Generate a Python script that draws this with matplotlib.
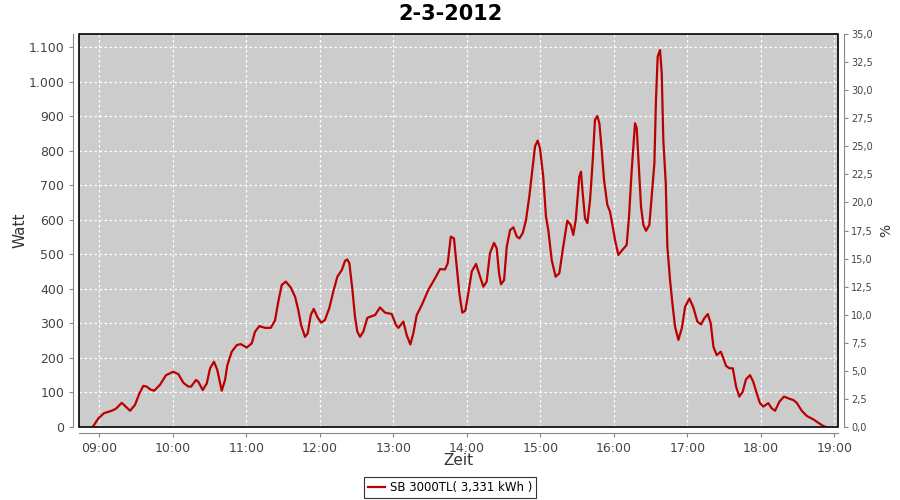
import matplotlib.pyplot as plt
from matplotlib.patches import Rectangle
from matplotlib.ticker import FuncFormatter, MultipleLocator

# time in minutes since midnight, power in watt
minutes = [534.6, 539.2, 543.8, 550.1, 553.6, 558.3, 565.1, 569.1, 572.7, 575.9,
           578.7, 581.4, 584.7, 589.5, 594.4, 600.4, 604.5, 608.6, 612.7, 614.9,
           618.9, 620.8, 624.4, 627.7, 630.4, 633.6, 636.3, 639.9, 642.6, 644.5,
           648.1, 652.2, 655.4, 660.3, 664.4, 667.1, 670.6, 675.3, 679.9, 683.4,
           686.1, 688.9, 692.2, 696.2, 699.8, 702.4, 704.7, 707.9, 710.1, 712.6,
           715.0, 718.0, 721.0, 724.2, 727.7, 731.0, 734.3, 737.9, 740.6, 742.4,
           744.1, 746.5, 748.7, 750.6, 752.8, 755.5, 758.8, 763.2, 765.1, 769.1,
           773.2, 778.7, 782.2, 784.1, 788.2, 790.9, 793.9, 796.3, 799.1, 803.2,
           808.6, 814.0, 818.1, 822.2, 824.4, 826.9, 829.5, 831.8, 833.9, 836.3,
           838.8, 841.2, 844.0, 847.5, 850.8, 853.5, 856.2, 858.9, 862.2, 864.4,
           866.3, 867.9, 870.4, 872.6, 875.3, 878.0, 880.8, 882.9, 885.6, 888.3,
           891.0, 893.8, 895.7, 897.9, 899.7, 902.4, 904.6, 906.5, 909.3, 912.5,
           915.5, 918.7, 922.0, 924.8, 926.9, 928.9, 931.8, 933.2, 934.6, 936.5,
           938.4, 940.6, 942.8, 944.6, 946.5, 948.2, 950.1, 952.0, 954.7, 956.9,
           959.1, 961.0, 963.7, 966.4, 970.5, 972.4, 974.6, 977.3, 978.7, 980.6,
           982.2, 984.1, 986.3, 989.0, 990.9, 993.1, 994.4, 995.8, 997.7, 999.1,
           1000.4, 1002.4, 1003.7, 1005.9, 1007.8, 1010.0, 1012.7, 1015.5, 1018.2, 1021.7,
           1024.9, 1028.2, 1031.2, 1033.9, 1036.7, 1039.1, 1041.3, 1044.0, 1047.3, 1049.4,
           1051.6, 1054.3, 1057.1, 1059.8, 1062.4, 1065.2, 1067.9, 1071.2, 1073.8, 1076.6,
           1079.3, 1082.0, 1086.1, 1088.9, 1091.6, 1095.1, 1098.9, 1102.4, 1106.5, 1109.3,
           1113.4, 1117.5, 1122.9, 1127.0, 1131.0, 1133.2]
watt = [0, 25, 40, 47, 53, 70, 47, 64, 97, 119,
        117, 109, 105, 122, 150, 160, 153, 128, 117, 117,
        136, 131, 107, 126, 170, 189, 165, 105, 136, 179,
        218, 237, 240, 230, 242, 276, 292, 287, 287, 308,
        363, 411, 421, 404, 377, 339, 295, 261, 271, 324,
        342, 318, 302, 310, 344, 392, 435, 454, 481, 485,
        474, 401, 319, 276, 261, 276, 316, 322, 324, 346,
        331, 327, 295, 287, 305, 266, 239, 271, 324, 353,
        397, 430, 457, 456, 474, 551, 546, 464, 387, 331,
        337, 387, 450, 472, 435, 406, 421, 503, 533, 517,
        445, 413, 425, 522, 570, 578, 551, 546, 561, 599,
        667, 753, 813, 829, 807, 724, 609, 570, 483, 435,
        445, 522, 597, 585, 556, 599, 724, 739, 676, 604,
        590, 657, 773, 889, 900, 879, 802, 715, 643, 623,
        580, 541, 498, 510, 527, 609, 744, 879, 865, 744,
        638, 585, 568, 585, 667, 763, 946, 1072, 1091, 1024,
        831, 705, 522, 425, 358, 290, 252, 286, 348, 372,
        346, 305, 297, 315, 327, 300, 232, 208, 218, 199,
        177, 170, 170, 117, 88, 102, 138, 150, 131, 98,
        69, 59, 69, 54, 47, 73, 88, 83, 78, 70,
        47, 32, 22, 12, 3, 0]

hour_ticks = list(range(540, 1141, 60))
hour_labels = [f"{m // 60:02d}:00" for m in hour_ticks]
watt_ticks = list(range(0, 1101, 100))

fig = plt.figure(figsize=(9, 5), dpi=100)
ax = fig.add_axes([79 / 900, 73 / 500, 759 / 900, 393 / 500])
ax.set_facecolor("#cccccc")

ax.plot(minutes, watt, color="#bb0000", lw=1.6, label="SB 3000TL( 3,331 kWh )")
ax.set_xlim(523.4, 1143.0)
ax.set_ylim(0, 1137.5)
ax.set_xticks(hour_ticks)
ax.set_xticklabels(hour_labels)
ax.set_yticks(watt_ticks)
ax.yaxis.set_major_formatter(FuncFormatter(lambda v, p: f"{int(v):,}".replace(",", ".")))
ax.grid(True, color="white", ls=(0, (2, 2)), lw=0.9)
ax.set_axisbelow(True)

# black frame around the plot, axis lines set slightly outward
ax.add_patch(Rectangle((0, 0), 1, 1, transform=ax.transAxes, fill=False,
                       ec="black", lw=1.2, zorder=5, clip_on=False))
for side in ["left", "bottom"]:
    ax.spines[side].set_position(("outward", 4))
    ax.spines[side].set_color("#888888")
for side in ["top", "right"]:
    ax.spines[side].set_visible(False)
ax.tick_params(colors="#888888", labelcolor="#444444", labelsize=9, length=3)

ax.set_xlabel("Zeit", fontsize=11, color="#333333")
ax.set_ylabel("Watt", fontsize=11, color="#333333")
ax.xaxis.set_label_coords(0.5, -0.067)
ax.yaxis.set_label_coords(-0.068, 0.5)

ax2 = ax.twinx()
ax2.set_ylim(0, 35)
ax2.yaxis.set_major_locator(MultipleLocator(2.5))
ax2.yaxis.set_major_formatter(FuncFormatter(lambda v, p: f"{v:.1f}".replace(".", ",")))
for side in ["left", "bottom", "top"]:
    ax2.spines[side].set_visible(False)
ax2.spines["right"].set_position(("outward", 4))
ax2.spines["right"].set_color("#888888")
ax2.tick_params(colors="#888888", labelcolor="#444444", labelsize=7, length=3,
                pad=2.5)
ax2.set_ylabel("%", fontsize=10, color="#333333")
ax2.yaxis.set_label_coords(1.054, 0.5)

fig.text(0.5, 1 - 14 / 500, "2-3-2012", fontsize=15, fontweight="bold",
         ha="center", va="center")

leg = fig.legend(loc="center", bbox_to_anchor=(0.5, 0.025), fontsize=8.5,
                 frameon=True, fancybox=False, handlelength=1.5,
                 borderpad=0.3, handletextpad=0.4)
leg.get_frame().set_edgecolor("black")
leg.get_frame().set_linewidth(0.8)

fig.savefig("out.png", dpi=100)
